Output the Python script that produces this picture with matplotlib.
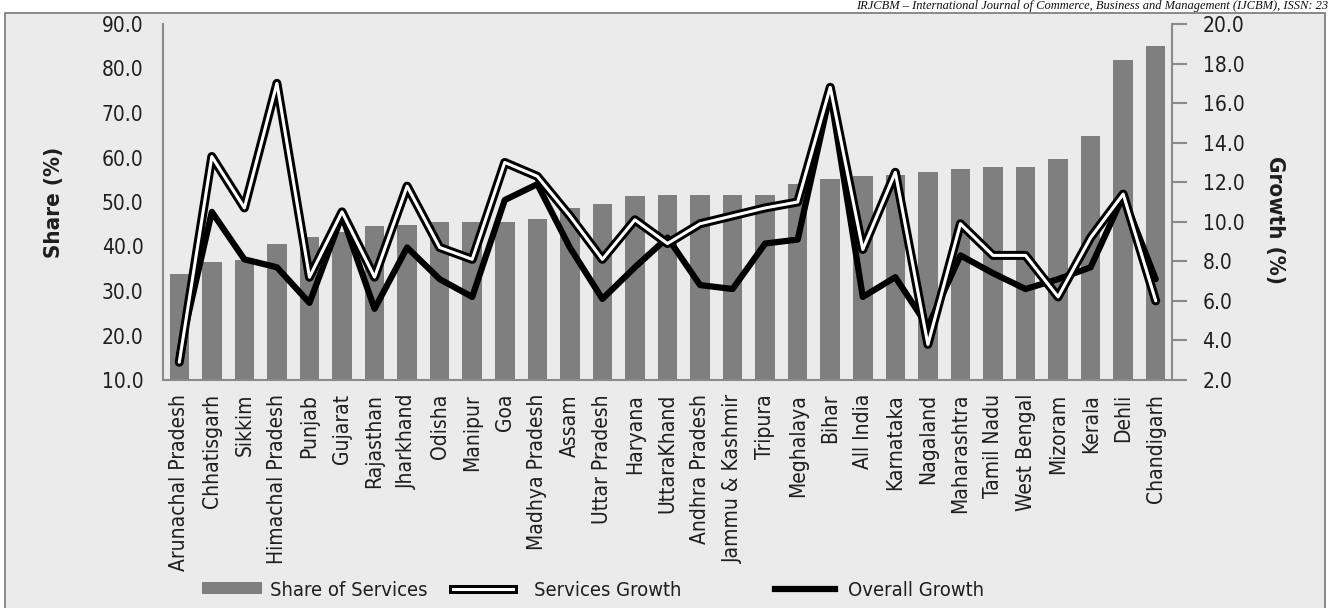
import matplotlib
matplotlib.use("Agg")
import matplotlib.pyplot as plt
import matplotlib.patheffects as pe
from matplotlib.patches import Rectangle, Patch
from matplotlib.lines import Line2D

plt.rcParams['font.family'] = ['DejaVu Sans']
plt.rcParams['font.stretch'] = 'condensed'

states = ["Arunachal Pradesh", "Chhatisgarh", "Sikkim", "Himachal Pradesh", "Punjab",
          "Gujarat", "Rajasthan", "Jharkhand", "Odisha", "Manipur", "Goa",
          "Madhya Pradesh", "Assam", "Uttar Pradesh", "Haryana", "UttaraKhand",
          "Andhra Pradesh", "Jammu & Kashmir", "Tripura", "Meghalaya", "Bihar",
          "All India", "Karnataka", "Nagaland", "Maharashtra", "Tamil Nadu",
          "West Bengal", "Mizoram", "Kerala", "Dehli", "Chandigarh"]

share = [33.8, 36.6, 37.0, 40.6, 42.2, 43.3, 44.6, 44.9, 45.6, 45.6, 45.6,
         46.2, 48.6, 49.6, 51.3, 51.5, 51.5, 51.5, 51.5, 54.0, 55.2,
         55.8, 56.0, 56.7, 57.4, 57.9, 57.9, 59.7, 64.8, 81.8, 85.1]

services_growth = [2.9, 13.3, 10.7, 17.0, 7.2, 10.5, 7.2, 11.8, 8.7, 8.1, 13.0,
                   12.3, 10.3, 8.1, 10.1, 8.9, 9.9, 10.3, 10.7, 11.0, 16.8,
                   8.6, 12.5, 3.8, 9.9, 8.3, 8.3, 6.2, 9.2, 11.4, 6.0]

overall_growth = [3.3, 10.5, 8.1, 7.7, 5.9, 10.3, 5.6, 8.7, 7.1, 6.2, 11.1,
                  11.9, 8.7, 6.1, 7.7, 9.2, 6.8, 6.6, 8.9, 9.1, 16.5,
                  6.2, 7.2, 4.7, 8.3, 7.4, 6.6, 7.1, 7.7, 11.3, 7.1]

bg = "#ebebeb"
bar_col = "#7f7f7f"
spine_col = "#8a8a8a"
txt_col = "#1e1e1e"

fig = plt.figure(figsize=(13.35, 6.08), dpi=100, facecolor="white")

# panel behind the chart
fig.patches.append(Rectangle((5 / 1335, -0.01), 1320 / 1335, 1.01 - 13 / 608,
                             transform=fig.transFigure, facecolor=bg,
                             edgecolor="#777777", linewidth=1.2, zorder=-5))

fig.text(0.995, 1.0,
         "IRJCBM \u2013 International Journal of Commerce, Business and Management (IJCBM), ISSN: 23",
         ha="right", va="top", fontsize=9, style="italic", stretch="normal",
         family=["Liberation Serif", "DejaVu Serif"], color="#111111")

ax = fig.add_axes([163 / 1335, 1 - 380 / 608, 1009 / 1335, 356 / 608])
ax.patch.set_alpha(0)
x = list(range(len(states)))

ax.bar(x, share, width=0.6, color=bar_col, zorder=2)
ax.set_xlim(-0.5, len(states) - 0.5)
ax.set_ylim(10, 90)
ax.set_yticks(range(10, 91, 10))
ax.set_yticklabels([f"{v:.1f}" for v in range(10, 91, 10)], fontsize=15, color=txt_col)
ax.tick_params(axis="y", length=0, pad=14)
ax.set_xticks(x)
ax.set_xticklabels(states, rotation=90, fontsize=15, color=txt_col, va="top")
ax.tick_params(axis="x", length=0, pad=10)
ax.set_ylabel("Share (%)", fontsize=16, fontweight="bold", color=txt_col)
ax.yaxis.set_label_coords(-0.098, 0.5)

for side in ["top", "right"]:
    ax.spines[side].set_visible(False)
for side in ["left", "bottom"]:
    ax.spines[side].set_color(spine_col)
    ax.spines[side].set_linewidth(1.5)

ax2 = ax.twinx()
ax2.set_ylim(2, 20)
ax2.set_yticks(range(2, 21, 2))
ax2.set_yticklabels([f"{v:.1f}" for v in range(2, 21, 2)], fontsize=15, color=txt_col)
ax2.tick_params(axis="y", length=11, width=1.5, color=spine_col, pad=11)
ax2.set_ylabel("Growth (%)", fontsize=16, fontweight="bold", color=txt_col, rotation=270)
ax2.yaxis.set_label_coords(1.112, 0.45)
for side in ["top", "left", "bottom"]:
    ax2.spines[side].set_visible(False)
ax2.spines["right"].set_color(spine_col)
ax2.spines["right"].set_linewidth(1.5)

outline = [pe.Stroke(linewidth=6.5, foreground="black"), pe.Normal()]
ax2.plot(x, overall_growth, color="black", linewidth=4.5, zorder=3,
         solid_joinstyle="round", solid_capstyle="round")
ax2.plot(x, services_growth, color="white", linewidth=2.2, zorder=4,
         path_effects=outline, solid_joinstyle="round", solid_capstyle="round")

# legend entries placed one by one, as in the original
legend_items = [
    (Patch(facecolor=bar_col, edgecolor="none"), "Share of Services", 202, 0.4),
    (Line2D([], [], color="white", linewidth=2.2, path_effects=outline),
     "Services Growth", 453, 1.0),
    (Line2D([], [], color="black", linewidth=4.5), "Overall Growth", 775, 0.6),
]
for handle, label, left_px, textpad in legend_items:
    fig.legend([handle], [label], loc="center left",
               bbox_to_anchor=(left_px / 1335, 1 - 590 / 608),
               frameon=False, fontsize=14.5, handlelength=3.0, handleheight=0.55,
               handletextpad=textpad, borderpad=0, borderaxespad=0,
               labelcolor=txt_col)

fig.savefig("out.png", dpi=100, facecolor=fig.get_facecolor())
